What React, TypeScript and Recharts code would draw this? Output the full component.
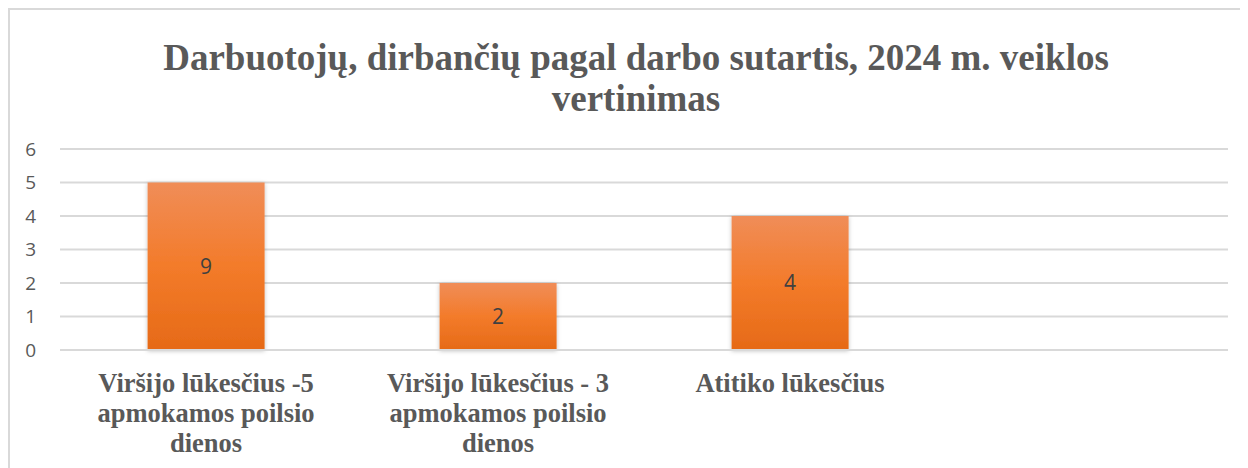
import React from "react";
import { BarChart, Bar, XAxis, YAxis, CartesianGrid, LabelList } from "recharts";

const titleLines = ["Darbuotojų, dirbančių pagal darbo sutartis, 2024 m. veiklos", "vertinimas"];
const categories = [
  "Viršijo lūkesčius -5\napmokamos poilsio\ndienos",
  "Viršijo lūkesčius - 3\napmokamos poilsio\ndienos",
  "Atitiko lūkesčius",
  "",
];
const barValues = [5, 2, 4, null];
const barLabels = ["9", "2", "4", ""];
const yTicks = [0, 1, 2, 3, 4, 5, 6];

const data = categories.map((c, i) => ({ name: c, value: barValues[i], label: barLabels[i] }));

const XTick = (props: any) => {
  const { x, y, payload } = props;
  const lines = String(payload.value).split("\n");
  return (
    <text
      x={x}
      y={y}
      textAnchor="middle"
      fill="#595959"
      fontFamily="'Liberation Serif', 'Times New Roman', serif"
      fontWeight="bold"
      fontSize={26.5}
    >
      {lines.map((l: string, i: number) => (
        <tspan key={i} x={x} dy={i === 0 ? 42 : 30}>
          {l}
        </tspan>
      ))}
    </text>
  );
};

export default function App() {
  return (
    <div
      style={{
        position: "relative",
        width: 1230,
        height: 458,
        borderTop: "2px solid #d9d9d9",
        borderLeft: "2px solid #d9d9d9",
        background: "#fff",
        overflow: "hidden",
      }}
    >
      <div
        style={{
          position: "absolute",
          left: 0,
          top: 27,
          width: 1252,
          textAlign: "center",
          fontFamily: "'Liberation Serif', 'Times New Roman', serif",
          fontWeight: "bold",
          fontSize: 37,
          lineHeight: "41px",
          color: "#595959",
        }}
      >
        {titleLines.map((t, i) => (
          <div key={i}>{t}</div>
        ))}
      </div>
      <BarChart
        width={1228}
        height={450}
        data={data}
        margin={{ top: 139, right: 10, bottom: 0, left: 0 }}
        barCategoryGap="30%"
      >
        <defs>
          <linearGradient id="barGrad" x1="0" y1="0" x2="0" y2="1">
            <stop offset="0%" stopColor="#f08d58" />
            <stop offset="50%" stopColor="#f37b2a" />
            <stop offset="100%" stopColor="#e66a17" />
          </linearGradient>
          <filter id="barShadow" x="-10%" y="-10%" width="120%" height="120%">
            <feDropShadow dx="0" dy="1" stdDeviation="2" floodColor="#000" floodOpacity="0.25" />
          </filter>
        </defs>
        <CartesianGrid vertical={false} stroke="#d9d9d9" strokeWidth={2} />
        <XAxis
          dataKey="name"
          height={110}
          tickLine={false}
          tickSize={0}
          tickMargin={0}
          axisLine={{ stroke: "#d9d9d9", strokeWidth: 2 }}
          tick={<XTick />}
          interval={0}
        />
        <YAxis
          width={50}
          domain={[0, 6]}
          ticks={yTicks}
          axisLine={false}
          tickLine={false}
          tickSize={0}
          tickMargin={24}
          tick={{ fill: "#595959", fontSize: 19, fontFamily: "'Open Sans', sans-serif" }}
        />
        <Bar dataKey="value" fill="url(#barGrad)" isAnimationActive={false} filter="url(#barShadow)">
          <LabelList
            dataKey="label"
            position="center"
            fill="#404040"
            fontSize={21}
            fontFamily="'Open Sans', sans-serif"
          />
        </Bar>
      </BarChart>
    </div>
  );
}
